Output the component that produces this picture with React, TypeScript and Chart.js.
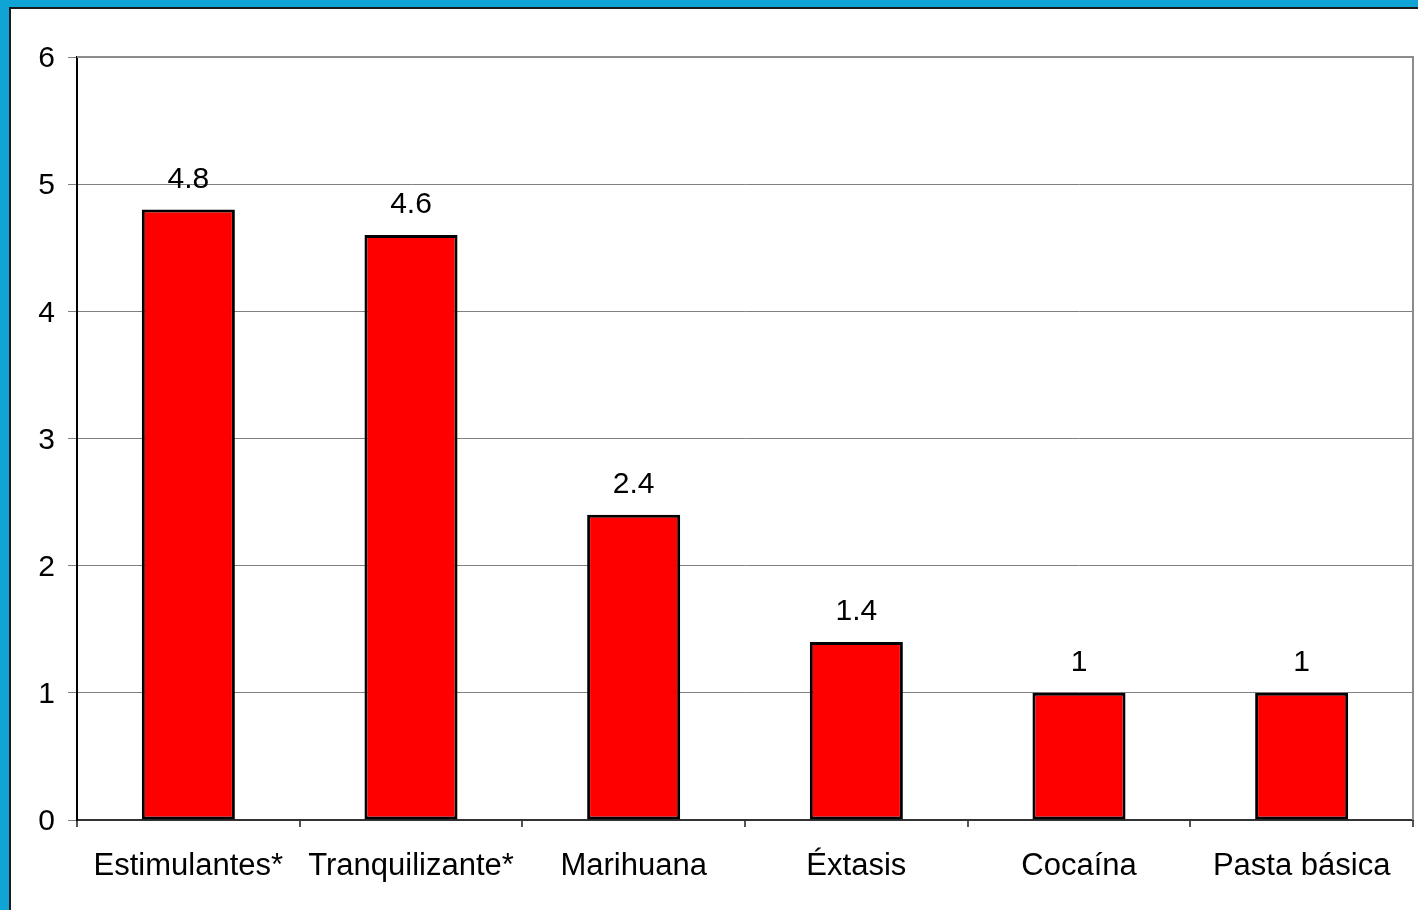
import React, { useEffect, useRef } from "react";
import { Chart, registerables } from "chart.js";

Chart.register(...registerables);

const categories = ["Estimulantes*", "Tranquilizante*", "Marihuana", "Éxtasis", "Cocaína", "Pasta básica"];
const values = [4.8, 4.6, 2.4, 1.4, 1, 1];
const yTicks = [0, 1, 2, 3, 4, 5, 6];

const FONT = "'Liberation Sans', Arial, sans-serif";

const frame = {
  id: "frame",
  afterDraw(chart: any) {
    const { ctx, chartArea } = chart;
    ctx.save();
    ctx.strokeStyle = "#8c8c8c";
    ctx.lineWidth = 2;
    ctx.beginPath();
    ctx.moveTo(chartArea.left, chartArea.top);
    ctx.lineTo(chartArea.right, chartArea.top);
    ctx.lineTo(chartArea.right, chartArea.bottom);
    ctx.stroke();
    ctx.restore();
  },
};

const valueLabels = {
  id: "valueLabels",
  afterDatasetsDraw(chart: any) {
    const { ctx } = chart;
    const meta = chart.getDatasetMeta(0);
    ctx.save();
    ctx.font = `30px ${FONT}`;
    ctx.fillStyle = "#000";
    ctx.textAlign = "center";
    ctx.textBaseline = "alphabetic";
    meta.data.forEach((bar: any, i: number) => {
      ctx.fillText(String(values[i]), bar.x, bar.y - 22);
    });
    ctx.restore();
  },
};

export default function App() {
  const ref = useRef<HTMLCanvasElement>(null);
  useEffect(() => {
    document.body.style.margin = "0";
    const chart = new Chart(ref.current!, {
      type: "bar",
      data: {
        labels: categories,
        datasets: [
          {
            data: values,
            backgroundColor: "#ff0000",
            borderColor: "#000000",
            borderWidth: 3,
            borderSkipped: false,
            categoryPercentage: 1,
            barPercentage: 0.418,
          },
        ],
      },
      options: {
        animation: false,
        responsive: false,
        maintainAspectRatio: false,
        layout: { padding: { top: 57, right: 5, left: 0, bottom: 0 } },
        plugins: { legend: { display: false }, tooltip: { enabled: false } },
        scales: {
          x: {
            offset: true,
            grid: {
              offset: true,
              drawOnChartArea: false,
              drawTicks: true,
              tickLength: 7,
              color: "#555555",
              lineWidth: 2,
            },
            border: { color: "#333333", width: 2 },
            ticks: {
              color: "#000",
              font: { family: FONT, size: 31 },
              padding: 21,
              maxRotation: 0,
              autoSkip: false,
            },
            afterFit(scale: any) {
              scale.height = 90;
            },
          },
          y: {
            min: 0,
            max: 6,
            afterBuildTicks(scale: any) {
              scale.ticks = yTicks.map((v) => ({ value: v }));
            },
            grid: {
              color: "#808080",
              lineWidth: 1,
              tickLength: 9,
            },
            border: { color: "#000000", width: 2 },
            ticks: {
              color: "#000",
              font: { family: FONT, size: 30 },
              padding: 13,
              labelOffset: 2,
            },
            afterFit(scale: any) {
              scale.width = 77;
            },
          },
        },
      },
      plugins: [frame, valueLabels],
    });
    return () => chart.destroy();
  }, []);

  return (
    <div style={{ position: "fixed", left: 0, top: 0, width: 1418, height: 910, background: "#10a3d6", overflow: "hidden" }}>
      <div
        style={{
          position: "absolute",
          left: 9,
          top: 7,
          width: 1409,
          height: 903,
          background: "#ffffff",
          borderLeft: "2px solid #1a1a1a",
          borderTop: "2px solid #1a1a1a",
          boxSizing: "border-box",
        }}
      />
      <canvas ref={ref} width={1418} height={910} style={{ position: "absolute", left: 0, top: 0 }} />
    </div>
  );
}
